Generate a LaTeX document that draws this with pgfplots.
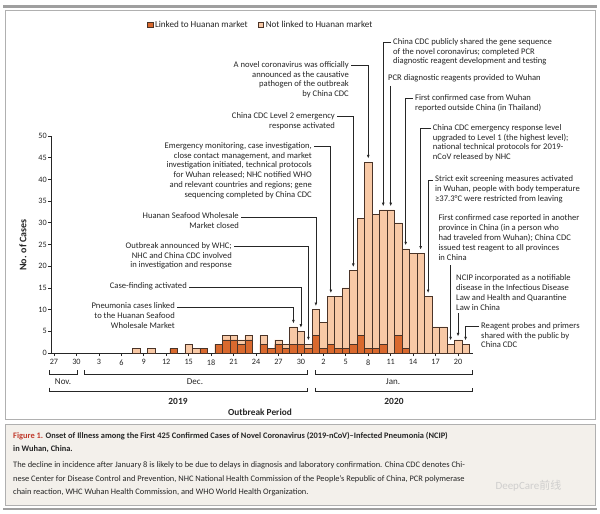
\documentclass[border=0pt]{standalone}
\usepackage{fontspec}
\setmainfont{Carlito}
\newfontfamily\cjk{Noto Sans CJK SC}
\usepackage{pgfplots}
\pgfplotsset{compat=1.18}
\usetikzlibrary{arrows.meta}

\definecolor{darkbar}{HTML}{D9692E}
\definecolor{lightbar}{HTML}{F8C9A6}
\definecolor{edge}{HTML}{4A3428}
\definecolor{txt}{HTML}{262626}
\definecolor{capbg}{HTML}{F3F0EB}
\definecolor{frame}{HTML}{B0B0B0}
\definecolor{figred}{HTML}{C0392B}

\newcommand\annfont{\fontsize{8.6bp}{9.9bp}\selectfont}

\begin{document}
\begin{tikzpicture}[>={Latex[length=3.6bp,width=2.8bp]},
  ann/.style={font=\annfont, text=txt, inner sep=0pt},
  lk/.style={->, txt, line width=0.7bp}]
\begin{scope}[x=1bp,y=-1bp]
\useasboundingbox (0,0) rectangle (600,514);
\fill[white] (0,0) rectangle (600,514);
\draw[frame, line width=0.8bp] (5,10) rectangle (595,419);
\draw[gray!75, line width=2.5bp] (3,6.5) -- (597,6.5);
\draw[frame, fill=capbg, line width=0.8bp] (5,424) rectangle (595,505);
\draw[gray!75, line width=2bp] (3,509) -- (597,509);
\end{scope}

\begin{axis}[
  at={(51bp,-353bp)}, anchor=south west,
  scale only axis, width=422bp, height=217bp,
  xmin=-0.4, xmax=56, ymin=0, ymax=50,
  axis lines*=left,
  axis line style={txt, line width=0.7bp},
  xtick={0,3,...,54},
  xticklabels={27,30,3,6,9,12,15,18,21,24,27,30,2,5,8,11,14,17,20},
  ytick={0,5,...,50},
  tick align=outside, major tick length=3bp,
  tick style={txt, line width=0.7bp},
  ticklabel style={font=\fontsize{8.2bp}{9bp}\selectfont, text=txt},
  yticklabel style={inner sep=1bp},
  /pgf/number format/assume math mode=true,
  clip=false,
  legend columns=2,
  legend style={at={(0.2268,1.513)}, anchor=west, draw=none, fill=none,
    font=\fontsize{9.1bp}{10bp}\selectfont, text=txt, inner sep=0pt,
    /tikz/every even column/.append style={column sep=8bp}},
  legend image code/.code={\draw[#1, line width=0.5bp] (0bp,-2.8bp) rectangle (5.6bp,2.8bp);},
]
\addlegendimage{fill=darkbar, draw=edge}
\addlegendentry{Linked to Huanan market}
\addlegendimage{fill=lightbar, draw=edge}
\addlegendentry{Not linked to Huanan market}

% all cases (day index: Nov 27 = 0, Dec 1 = 4, Jan 1 = 35)
\addplot[ybar, bar width=1, bar shift=0pt, fill=lightbar, draw=edge, line width=0.45bp, forget plot]
coordinates {
(11,1) (13,1) (16,1) (18,2) (19,1) (20,1) (22,2) (23,4) (24,4) (25,3) (26,4)
(28,4) (29,1) (30,3) (31,2) (32,6) (33,5) (34,2)
(35,10) (36,7) (37,13) (38,13) (39,15) (40,19) (41,31) (42,44) (43,32) (44,33)
(45,33) (46,30) (47,24) (48,23) (49,23) (50,13) (51,6) (52,6) (53,2) (54,3) (55,2)
};
% cases linked to the market
\addplot[ybar, bar width=1, bar shift=0pt, fill=darkbar, draw=edge, line width=0.45bp, forget plot]
coordinates {
(16,1) (20,1) (22,2) (23,3) (24,3) (25,2) (26,3) (28,2) (29,1) (30,2) (31,1)
(32,2) (33,2) (34,1) (35,4) (36,1) (37,2) (38,1) (39,1) (40,2) (41,4) (42,1)
(43,1) (44,2) (46,4) (47,1)
};

\coordinate (d29) at (axis cs:32,6.8);
\coordinate (d30) at (axis cs:33,5.8);
\coordinate (d31) at (axis cs:34,2.9);
\coordinate (j1) at (axis cs:35,10.8);
\coordinate (j3) at (axis cs:37,13.8);
\coordinate (j6) at (axis cs:40,19.8);
\coordinate (j8) at (axis cs:42,44.8);
\coordinate (j10) at (axis cs:44,33.8);
\coordinate (j11) at (axis cs:45,33.8);
\coordinate (j13) at (axis cs:47,24.8);
\coordinate (j15) at (axis cs:49,23.8);
\coordinate (j16) at (axis cs:50,13.8);
\coordinate (j19) at (axis cs:53,2.9);
\coordinate (j20) at (axis cs:54,3.8);
\coordinate (j21) at (axis cs:55,2.9);
\end{axis}

\begin{scope}[x=1bp,y=-1bp]
% left annotations
\node[ann, align=right, anchor=north east] at (349,61) {A novel coronavirus was officially\\announced as the causative\\pathogen of the outbreak\\by China CDC};
\draw[lk] (351,65.7) -| (j8);
\node[ann, align=right, anchor=north east] at (335,112) {China CDC Level 2 emergency\\response activated};
\draw[lk] (337,116.7) -| (j6);
\node[ann, align=right, anchor=north east] at (312,142) {Emergency monitoring, case investigation,\\close contact management, and market\\investigation initiated, technical protocols\\for Wuhan released; NHC notified WHO\\and relevant countries and regions; gene\\sequencing completed by China CDC};
\draw[lk] (314,146.7) -| (j3);
\node[ann, align=right, anchor=north east] at (239,212.3) {Huanan Seafood Wholesale\\Market closed};
\draw[lk] (241,217) -| (j1);
\node[ann, align=right, anchor=north east] at (232,242) {Outbreak announced by WHC;\\NHC and China CDC involved\\in investigation and response};
\draw[lk] (234,246.7) -| (d31);
\node[ann, align=right, anchor=north east] at (187,282.3) {Case-finding activated};
\draw[lk] (189,287) -| (d30);
\node[ann, align=right, anchor=north east] at (175,302.3) {Pneumonia cases linked\\to the Huanan Seafood\\Wholesale Market};
\draw[lk] (177,307) -| (d29);

% right annotations
\node[ann, align=left, anchor=north west] at (393,38) {China CDC publicly shared the gene sequence\\of the novel coronavirus; completed PCR\\diagnostic reagent development and testing};
\draw[lk] (391,42.7) -| (j10);
\node[ann, align=left, anchor=north west] at (388,74.6) {PCR diagnostic reagents provided to Wuhan};
\draw[lk] (j11 |- 0,86) -- (j11);
\node[ann, align=left, anchor=north west] at (415,94) {First confirmed case from Wuhan\\reported outside China (in Thailand)};
\draw[lk] (413,98.7) -| (j13);
\node[ann, align=left, anchor=north west] at (432.7,124) {China CDC emergency response level\\upgraded to Level 1 (the highest level);\\national technical protocols for 2019-\\nCoV released by NHC};
\draw[lk] (431,128.7) -| (j15);
\node[ann, align=left, anchor=north west] at (435,175.3) {Strict exit screening measures activated\\in Wuhan, people with body temperature\\≥37.3°C were restricted from leaving};
\draw[lk] (433,180) -| (j16);
\node[ann, align=left, anchor=north west] at (438.3,214.3) {First confirmed case reported in another\\province in China (in a person who\\had traveled from Wuhan); China CDC\\issued test reagent to all provinces\\in China};
\draw[lk] (j19 |- 0,265) -- (j19);
\node[ann, align=left, anchor=north west] at (456,274.3) {NCIP incorporated as a notifiable\\disease in the Infectious Disease\\Law and Health and Quarantine\\Law in China};
\draw[lk] (j20 |- 0,313) -- (j20);
\node[ann, align=left, anchor=north west] at (481,322) {Reagent probes and primers\\shared with the public by\\China CDC};
\draw[lk] (479,326.7) -| (j21);

% axis label and period brackets
\node[font=\fontsize{10bp}{11bp}\selectfont\bfseries, text=txt, rotate=90] at (23,245) {No. of Cases};
\begin{scope}[txt, line width=0.7bp]
\draw (49,370) -- (49,374) -- (77,374) -- (77,370);
\draw (84,370) -- (84,374) -- (307.7,374) -- (307.7,370);
\draw (315,370) -- (315,374) -- (472.7,374) -- (472.7,370);
\draw (49,387.5) -- (49,391.7) -- (307.7,391.7) -- (307.7,387.5);
\draw (315,387.5) -- (315,391.7) -- (472.7,391.7) -- (472.7,387.5);
\end{scope}
\node[ann, font=\fontsize{9bp}{10bp}\selectfont] at (63,382) {Nov.};
\node[ann, font=\fontsize{9bp}{10bp}\selectfont] at (195,382) {Dec.};
\node[ann, font=\fontsize{9bp}{10bp}\selectfont] at (393,382) {Jan.};
\node[ann, font=\fontsize{9.4bp}{10bp}\selectfont\bfseries] at (178,401.7) {2019};
\node[ann, font=\fontsize{9.4bp}{10bp}\selectfont\bfseries] at (394,401.7) {2020};
\node[ann, font=\fontsize{9.3bp}{10bp}\selectfont\bfseries] at (260,412) {Outbreak Period};

% caption
\node[inner sep=0pt, anchor=north west, align=left, text=txt,
  font=\fontsize{8.4bp}{13.5bp}\selectfont] at (13,432) {%
{\bfseries\color{figred}Figure 1.} {\bfseries Onset of Illness among the First 425 Confirmed Cases of Novel Coronavirus (2019-nCoV)--Infected Pneumonia (NCIP)}\\
{\bfseries in Wuhan, China.}\\[2.5bp]
The decline in incidence after January 8 is likely to be due to delays in diagnosis and laboratory confirmation. China CDC denotes Chi-\\
nese Center for Disease Control and Prevention, NHC National Health Commission of the People's Republic of China, PCR polymerase\\
chain reaction, WHC Wuhan Health Commission, and WHO World Health Organization.};
\node[text=gray!45, font=\fontsize{11bp}{12bp}\selectfont, opacity=0.8, anchor=west] at (492,486) {DeepCare{\cjk 前线}};
\end{scope}
\end{tikzpicture}
\end{document}
